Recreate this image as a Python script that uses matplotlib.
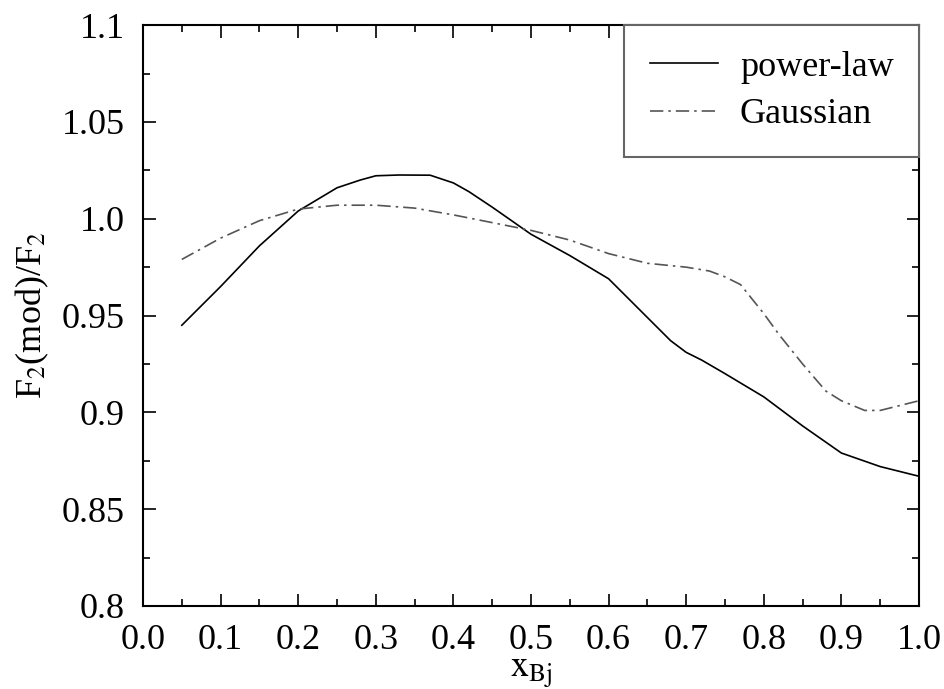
import numpy as np
import matplotlib
matplotlib.use("Agg")
import matplotlib.pyplot as plt
from matplotlib.ticker import MultipleLocator, FormatStrFormatter

plt.rcParams["font.family"] = ["Liberation Serif", "DejaVu Serif"]
plt.rcParams["mathtext.fontset"] = "stix"

# F2 ratio curves read at fixed x_Bj values
x_power = [0.05, 0.10, 0.15, 0.20, 0.25, 0.28, 0.30, 0.33, 0.37, 0.40, 0.42,
           0.45, 0.50, 0.55, 0.60, 0.65, 0.68, 0.70, 0.72, 0.75, 0.80, 0.85,
           0.90, 0.95, 1.00]
y_power = [0.945, 0.965, 0.986, 1.004, 1.016, 1.020, 1.0222, 1.0226, 1.0225,
           1.0185, 1.014, 1.006, 0.992, 0.981, 0.969, 0.949, 0.937, 0.931,
           0.927, 0.920, 0.908, 0.893, 0.879, 0.872, 0.867]

x_gauss = [0.05, 0.10, 0.15, 0.20, 0.25, 0.30, 0.35, 0.40, 0.45, 0.50, 0.55,
           0.60, 0.65, 0.70, 0.73, 0.75, 0.77, 0.80, 0.82, 0.85, 0.88, 0.90,
           0.93, 0.95, 0.97, 1.00]
y_gauss = [0.979, 0.990, 0.999, 1.005, 1.007, 1.007, 1.0055, 1.002, 0.998,
           0.994, 0.989, 0.982, 0.977, 0.975, 0.973, 0.970, 0.966, 0.951,
           0.940, 0.925, 0.911, 0.906, 0.901, 0.901, 0.903, 0.906]

fig = plt.figure(figsize=(9.44, 6.89), dpi=100)
ax = fig.add_axes([0.1515, 0.1205, 0.822, 0.843])

ax.plot(x_power, y_power, color="black", lw=1.2, label="power-law")
ax.plot(x_gauss, y_gauss, color="#555555", lw=1.2,
        linestyle=(0, (8, 3, 1.5, 3)), label="Gaussian")

ax.set_xlim(0.0, 1.0)
ax.set_ylim(0.8, 1.1)
ax.xaxis.set_major_locator(MultipleLocator(0.1))
ax.xaxis.set_minor_locator(MultipleLocator(0.05))
ax.yaxis.set_minor_locator(MultipleLocator(0.025))
ax.xaxis.set_major_formatter(FormatStrFormatter("%.1f"))
ax.set_yticks([0.8, 0.85, 0.9, 0.95, 1.0, 1.05, 1.1])
ax.set_yticklabels(["0.8", "0.85", "0.9", "0.95", "1.0", "1.05", "1.1"])

ax.tick_params(which="both", direction="in", top=True, right=True,
               labelsize=26, width=1.2)
ax.tick_params(which="major", length=9)
ax.tick_params(which="minor", length=5)
ax.tick_params(axis="x", pad=13)
ax.tick_params(axis="y", pad=13)
for s in ax.spines.values():
    s.set_linewidth(1.5)

ax.set_xlabel(r"$\mathrm{x_{Bj}}$", fontsize=26, labelpad=0)
ax.set_ylabel(r"F$_2$(mod)/F$_2$", fontsize=26, labelpad=8)

leg = ax.legend(loc="upper right", bbox_to_anchor=(1.0, 1.0), fontsize=26,
                frameon=True, fancybox=False, edgecolor="#666666",
                framealpha=1, borderaxespad=0, handlelength=1.9,
                handletextpad=0.6, borderpad=0.7, labelspacing=0.4)
leg.get_frame().set_linewidth(1.5)

fig.savefig("out.png", dpi=100)
